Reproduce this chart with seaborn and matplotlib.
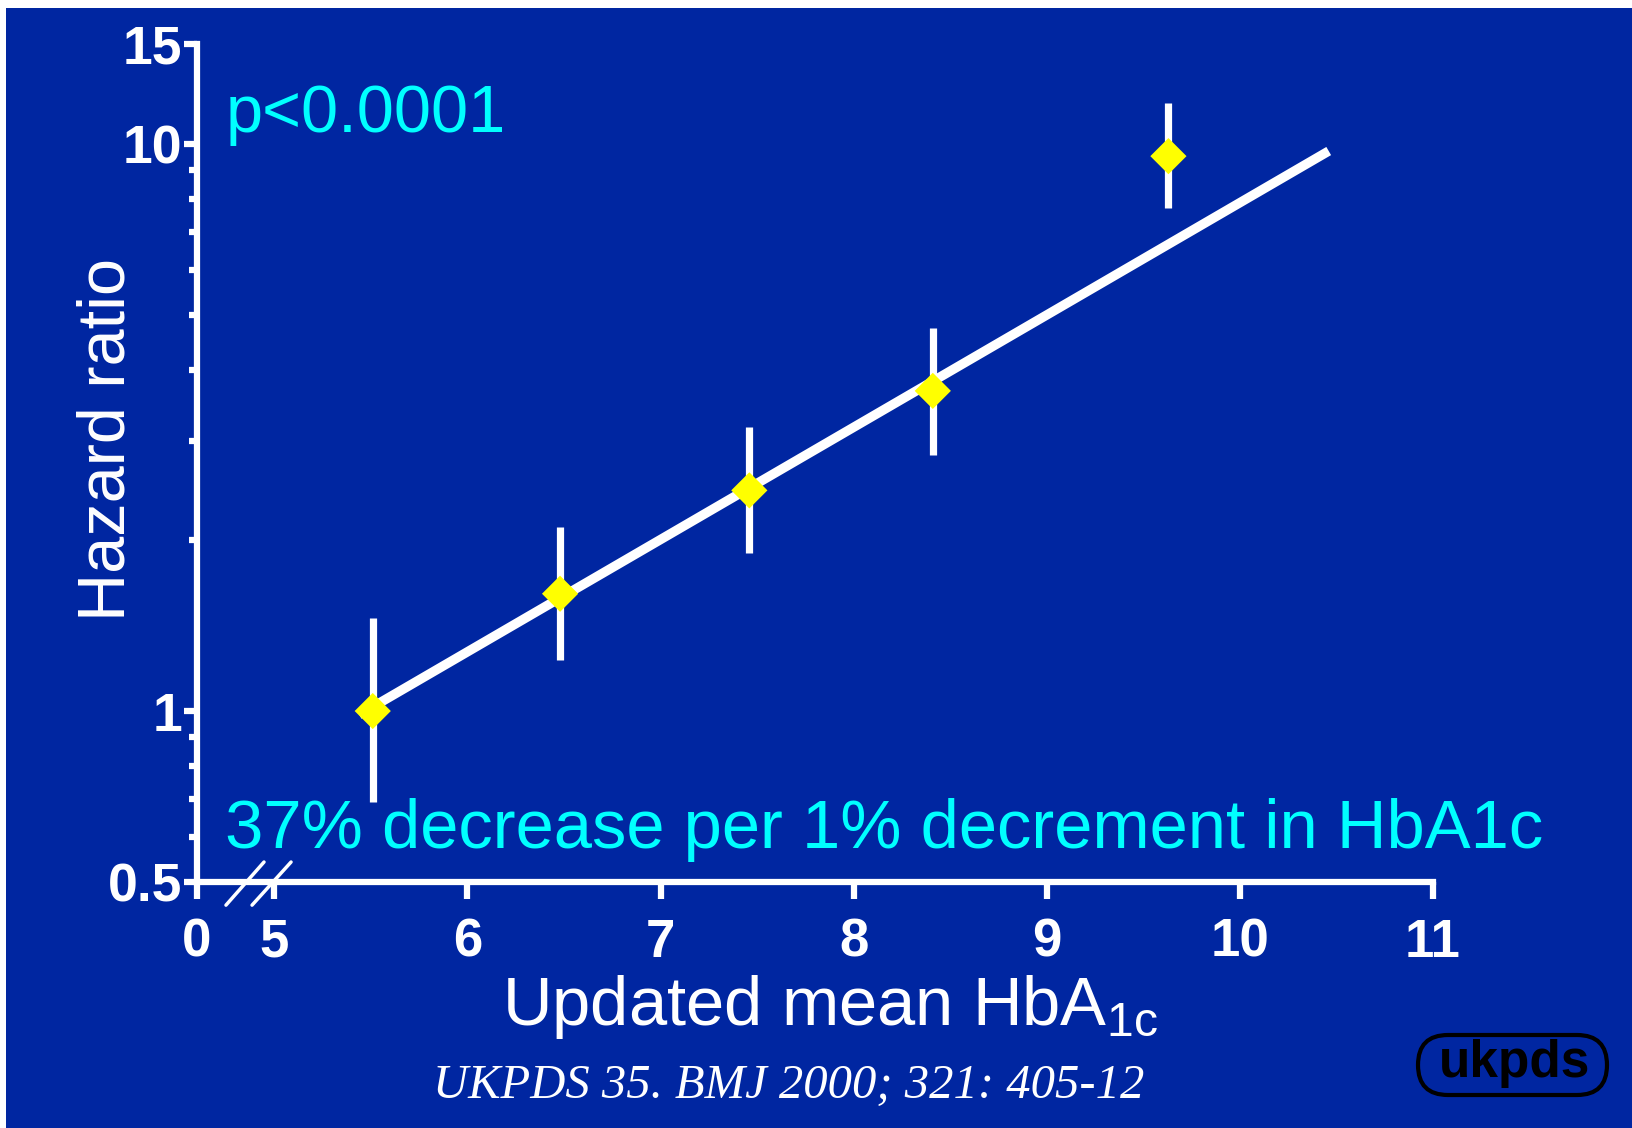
import matplotlib
matplotlib.use("Agg")
import matplotlib.pyplot as plt
import matplotlib.transforms as mtransforms
from matplotlib.patches import Rectangle, FancyBboxPatch
from matplotlib.ticker import NullFormatter
import seaborn as sns

# Values
hba1c = [5.51, 6.48, 7.46, 8.41, 9.63]
hazard = [1.0, 1.61, 2.45, 3.67, 9.52]
ci_low = [0.69, 1.23, 1.90, 2.83, 7.71]
ci_high = [1.46, 2.11, 3.17, 4.74, 11.8]

# fitted line end points
fit_x = [5.44, 10.46]
fit_y = [0.985, 9.72]

x_ticks = [4.6, 5, 6, 7, 8, 9, 10, 11]
x_tick_labels = ["0", "5", "6", "7", "8", "9", "10", "11"]
y_ticks = [0.5, 1, 10, 15]
y_tick_labels = ["0.5", "1", "10", "15"]
y_minor = [0.6, 0.7, 0.8, 0.9, 2, 3, 4, 5, 6, 7, 8, 9]

BLUE = "#0026A1"
CYAN = "#00FFFF"
YELLOW = "#FFFF00"

sns.set_style("ticks")
plt.rcParams["font.family"] = ["Liberation Sans", "DejaVu Sans"]
plt.rcParams["mathtext.fontset"] = "custom"
plt.rcParams["mathtext.rm"] = "Liberation Sans"

fig = plt.figure(figsize=(16.32, 11.28), dpi=100, facecolor="white")
# slide background (thin white strip on top / left like the scan)
fig.patches.append(Rectangle((6 / 1632, 0), 1 - 6 / 1632, 1 - 8 / 1128,
                             transform=fig.transFigure, facecolor=BLUE,
                             edgecolor="none", zorder=-10))

ax = fig.add_axes([197 / 1632, 246.3 / 1128, 1236 / 1632, 837.5 / 1128])
ax.patch.set_visible(False)
ax.set_yscale("log")

# fitted line, error bars, points
sns.lineplot(x=fit_x, y=fit_y, color="white", lw=6.8, solid_capstyle="butt", ax=ax)
ax.vlines(hba1c, ci_low, ci_high, colors="white", lw=5.2)
sns.scatterplot(x=hba1c, y=hazard, marker="D", s=340, color=YELLOW,
                edgecolor="none", zorder=5, ax=ax)

ax.set_xlim(4.6, 11)
ax.set_ylim(0.5, 15)

for side in ["top", "right"]:
    ax.spines[side].set_visible(False)
for side in ["left", "bottom"]:
    ax.spines[side].set_color("white")
    ax.spines[side].set_linewidth(4.5)

ax.set_xticks(x_ticks, x_tick_labels, fontsize=38, fontweight="bold")
ax.set_yticks(y_ticks, y_tick_labels, fontsize=38.5, fontweight="bold")
ax.set_yticks(y_minor, minor=True)
ax.yaxis.set_minor_formatter(NullFormatter())

ax.tick_params(axis="y", which="major", length=9.5, width=4.5, color="white",
               labelcolor="white", pad=1)
ax.tick_params(axis="y", which="minor", length=6, width=4.5, color="white")
ax.tick_params(axis="x", which="major", length=12, width=4.5, color="white",
               labelcolor="white", pad=14)
ax.tick_params(axis="x", which="minor", length=0)

# axis break marks
brk = mtransforms.blended_transform_factory(ax.transData, ax.transAxes)
ax.plot([4.75, 4.947], [-0.028, 0.0235], color="white", lw=2.5, transform=brk, clip_on=False)
ax.plot([4.885, 5.087], [-0.028, 0.0235], color="white", lw=2.5, transform=brk, clip_on=False)

ax.set_ylabel("Hazard ratio", fontsize=48, color="white")
ax.yaxis.set_label_coords(-0.047, 0.528)
ax.set_xlabel(r"Updated mean HbA$_{\mathrm{1c}}$", fontsize=49.5, color="white", va="baseline")
ax.xaxis.set_label_coords(0.512, -0.171)

fig.text(226 / 1632, 1 - 132 / 1128, "p<0.0001", fontsize=48, color=CYAN, va="baseline")
fig.text(225 / 1632, 1 - 848 / 1128, "37% decrease per 1% decrement in HbA1c",
         fontsize=49.5, color=CYAN, va="baseline")
fig.text(789 / 1632, 1 - 1098 / 1128, "UKPDS 35. BMJ 2000; 321: 405-12",
         family="Liberation Serif", style="italic", fontsize=35, color="white",
         ha="center", va="baseline")

# ukpds logo
fig.patches.append(FancyBboxPatch((14.18, 0.33), 1.89, 0.60,
                                  boxstyle="round,pad=0,rounding_size=0.3",
                                  transform=fig.dpi_scale_trans, facecolor="none",
                                  edgecolor="black", lw=3))
fig.text(1514.5 / 1632, 1 - 1064 / 1128, "ukpds", fontsize=37, fontweight="bold",
         color="black", ha="center", va="center")

fig.savefig("out.png", dpi=100, facecolor=fig.get_facecolor())
